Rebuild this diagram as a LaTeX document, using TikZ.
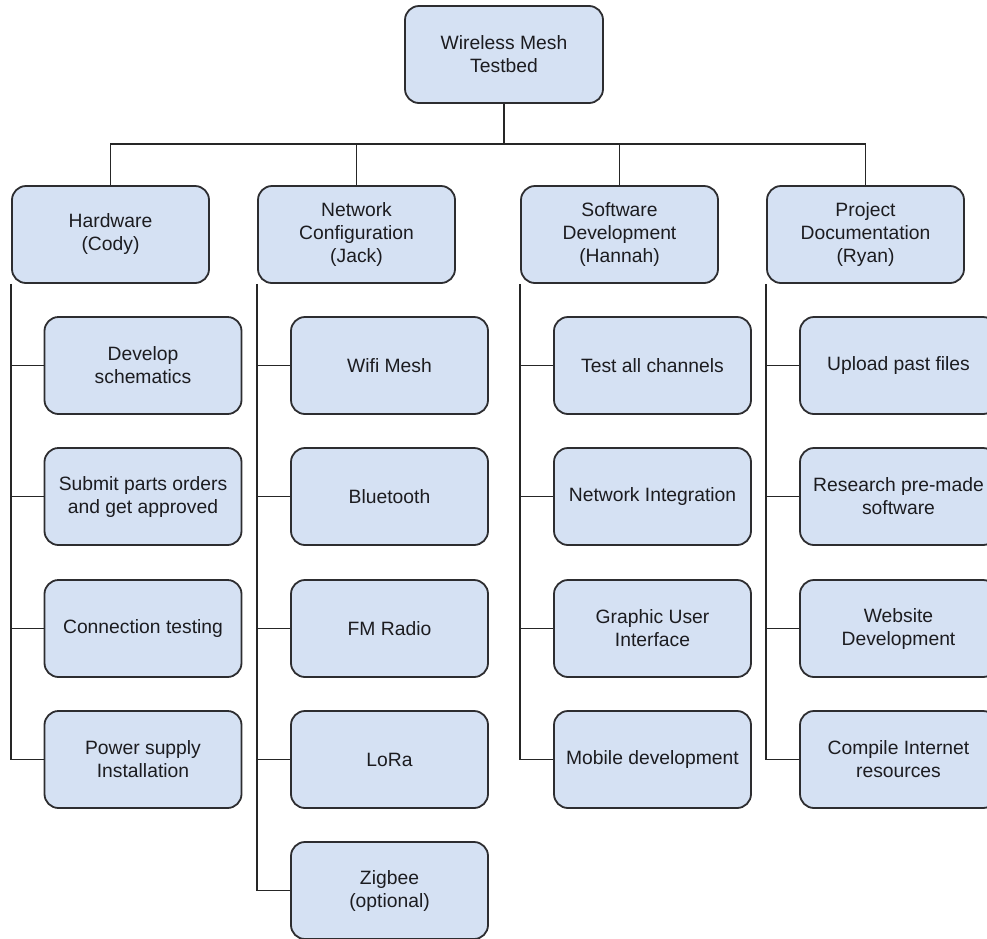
\documentclass[tikz,border=0pt]{standalone}
\usepackage{fontspec}
\setmainfont{Liberation Sans}
\definecolor{boxfill}{RGB}{213,225,243}
\definecolor{boxline}{RGB}{45,45,48}
\definecolor{txt}{RGB}{28,28,32}
\begin{document}
\begin{tikzpicture}[x=1pt,y=-1pt,
  wbs/.style={draw=boxline, line width=1.8pt, fill=boxfill, rounded corners=14pt,
    minimum width=197pt, minimum height=97pt, inner sep=0pt, align=center,
    text=txt, font=\fontsize{19.3}{23}\selectfont},
  link/.style={draw=black!85, line width=1.7pt}]
\useasboundingbox (0,0) rectangle (987,938);
\clip (0,0) rectangle (987,938);
% root
\node[wbs, minimum width=198pt] (root) at (504,54.5) {Wireless Mesh\\Testbed};
% parents
\node[wbs] (hw) at (110.5,234.5) {Hardware\\(Cody)};
\node[wbs] (nc) at (356.5,234.5) {Network\\Configuration\\(Jack)};
\node[wbs] (sd) at (619.5,234.5) {Software\\Development\\(Hannah)};
\node[wbs] (pd) at (865.5,234.5) {Project\\Documentation\\(Ryan)};
% hardware children
\node[wbs] (hw1) at (143,365.5) {Develop\\schematics};
\node[wbs] (hw2) at (143,496.5) {Submit parts orders\\and get approved};
\node[wbs] (hw3) at (143,628.5) {Connection testing};
\node[wbs] (hw4) at (143,759.5) {Power supply\\Installation};
% network children
\node[wbs] (nc1) at (389.5,365.5) {Wifi Mesh};
\node[wbs] (nc2) at (389.5,496.5) {Bluetooth};
\node[wbs] (nc3) at (389.5,628.5) {FM Radio};
\node[wbs] (nc4) at (389.5,759.5) {LoRa};
\node[wbs] (nc5) at (389.5,890.5) {Zigbee\\(optional)};
% software children
\node[wbs] (sd1) at (652.5,365.5) {Test all channels};
\node[wbs] (sd2) at (652.5,496.5) {Network Integration};
\node[wbs] (sd3) at (652.5,628.5) {Graphic User\\Interface};
\node[wbs] (sd4) at (652.5,759.5) {Mobile development};
% documentation children
\node[wbs] (pd1) at (898.5,365.5) {Upload past files};
\node[wbs] (pd2) at (898.5,496.5) {Research pre-made\\software};
\node[wbs] (pd3) at (898.5,628.5) {Website\\Development};
\node[wbs] (pd4) at (898.5,759.5) {Compile Internet\\resources};
% top connectors
\coordinate (bus) at (504,144);
\draw[link] (root.south) -- (bus);
\draw[link] (hw.north) |- (bus) -| (pd.north);
\draw[link] (nc.north) -- (nc.north |- bus);
\draw[link] (sd.north) -- (sd.north |- bus);
% column trunks
\draw[link] (hw.south west) |- (hw4.west);
\foreach \c in {hw1,hw2,hw3} \draw[link] (hw.south west |- \c.west) -- (\c.west);
\draw[link] (nc.south west) |- (nc5.west);
\foreach \c in {nc1,nc2,nc3,nc4} \draw[link] (nc.south west |- \c.west) -- (\c.west);
\draw[link] (sd.south west) |- (sd4.west);
\foreach \c in {sd1,sd2,sd3} \draw[link] (sd.south west |- \c.west) -- (\c.west);
\draw[link] (pd.south west) |- (pd4.west);
\foreach \c in {pd1,pd2,pd3} \draw[link] (pd.south west |- \c.west) -- (\c.west);
\end{tikzpicture}
\end{document}
